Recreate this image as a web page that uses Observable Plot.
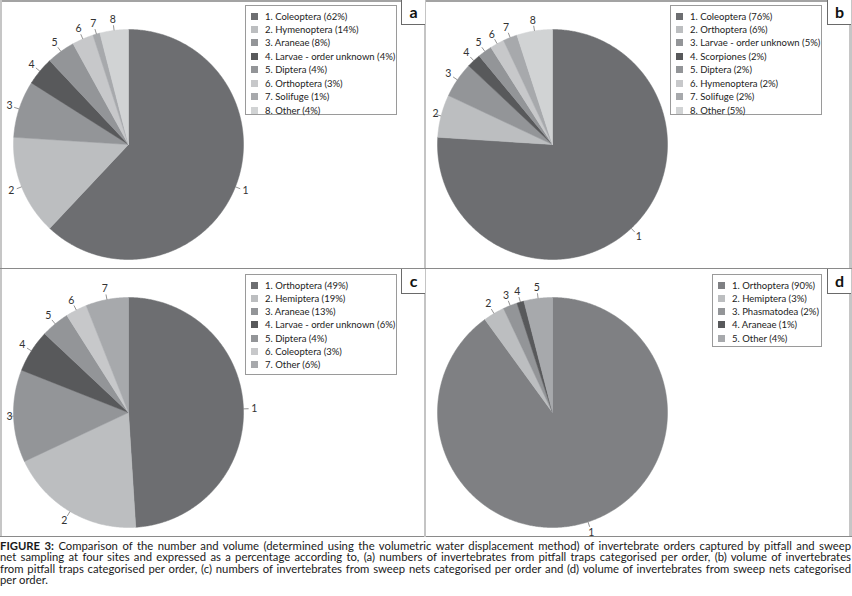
<!DOCTYPE html>
<html><head><meta charset="utf-8">
<script src="https://cdn.jsdelivr.net/npm/d3@7"></script>
<script src="https://cdn.jsdelivr.net/npm/@observablehq/plot@0.6"></script>
<style>
body{margin:0;background:#fff;font-family:Lato,sans-serif;}
#fig{position:relative;width:852px;height:596px;overflow:hidden;}
.plotbox{position:absolute;}
.frameT{position:absolute;left:0;top:0;width:852px;height:2px;background:#a3a3a3;}
.frameL{position:absolute;left:0;top:0;width:2px;height:537px;background:#c6c6c6;}
.frameR{position:absolute;left:849px;top:0;width:3px;height:537px;background:#c6c6c6;}
.frameB{position:absolute;left:0;top:536px;width:852px;height:1px;background:#8a8a8a;}
.vline{position:absolute;left:424px;top:0;width:2px;height:537px;background:#c4c4c4;}
.hline{position:absolute;left:0;top:268px;width:852px;height:1px;background:#8a8a8a;}
.tag{position:absolute;width:23px;height:24px;background:#fff;border-left:1px solid #6a6a6a;border-bottom:1px solid #6a6a6a;font:bold 16px Lato,sans-serif;text-align:center;line-height:23px;color:#111;}
.legend{position:absolute;border:1px solid #9a9a9a;background:#fff;box-sizing:border-box;}
.row{position:absolute;height:13px;line-height:13px;font-size:9.5px;color:#222;white-space:nowrap;}
.sw{position:absolute;width:7px;height:7px;top:3px;}
#cap{position:absolute;left:0;top:539.5px;width:851px;font-size:11.3px;line-height:11.6px;color:#1a1a1a;}
#cap span.l{display:block;white-space:nowrap;text-align:justify;text-align-last:justify;}
#cap span.last{display:block;white-space:nowrap;text-align:left;}
</style></head>
<body><div id="fig"></div>
<script>
// ---- data ----
const catsA = ["Coleoptera","Hymenoptera","Araneae","Larvae - order unknown","Diptera","Orthoptera","Solifuge","Other"];
const valsA = [62,14,8,4,4,3,1,4];
const catsB = ["Coleoptera","Orthoptera","Larvae - order unknown","Scorpiones","Diptera","Hymenoptera","Solifuge","Other"];
const valsB = [76,6,5,2,2,2,2,5];
const catsC = ["Orthoptera","Hemiptera","Araneae","Larvae - order unknown","Diptera","Coleoptera","Other"];
const valsC = [49,19,13,6,4,3,6];
const catsD = ["Orthoptera","Hemiptera","Phasmatodea","Araneae","Other"];
const valsD = [90,3,2,1,4];
const panelTags = ["a","b","c","d"];
const captionLines = [
  "Comparison of the number and volume (determined using the volumetric water displacement method) of invertebrate orders captured by pitfall and sweep",
  "net sampling at four sites and expressed as a percentage according to, (a) numbers of invertebrates from pitfall traps categorised per order, (b) volume of invertebrates",
  "from pitfall traps categorised per order, (c) numbers of invertebrates from sweep nets categorised per order and (d) volume of invertebrates from sweep nets categorised",
  "per order."
];
// ---- styles ----
const palA = ["#6d6e71","#bcbec0","#939598","#58595b","#939598","#c7c8ca","#a7a9ac","#d1d3d4"];
const palC = ["#6d6e71","#bcbec0","#939598","#58595b","#939598","#c7c8ca","#a7a9ac"];
const palD = ["#7f8083","#bcbec0","#939598","#58595b","#a7a9ac"];

const fig = document.getElementById("fig");
const W = 424, H = 268, R = 115;

function piePlot(vals, pal, cx, cy) {
  const total = d3.sum(vals);
  const poly = [], labs = [];
  let acc = 0;
  vals.forEach((v, i) => {
    const a0 = acc / total * 2 * Math.PI; acc += v;
    const a1 = acc / total * 2 * Math.PI;
    const n = Math.max(2, Math.ceil((a1 - a0) / (Math.PI / 360)));
    poly.push({s: i, x: 0, y: 0, c: pal[i]});
    for (let k = 0; k <= n; k++) {
      const a = a0 + (a1 - a0) * k / n;
      poly.push({s: i, x: Math.sin(a), y: Math.cos(a), c: pal[i]});
    }
    poly.push({s: i, x: 0, y: 0, c: pal[i]});
    const m = (a0 + a1) / 2;
    labs.push({t: String(i + 1), m});
  });
  const xmin = (-cx + 9) / R;
  return Plot.plot({
    width: W, height: H, margin: 0,
    style: {background: "transparent", fontFamily: "Lato, sans-serif"},
    x: {domain: [-cx / R, (W - cx) / R], axis: null},
    y: {domain: [-(H - cy) / R, cy / R], axis: null},
    color: {type: "identity"},
    marks: [
      Plot.line(poly, {x: "x", y: "y", z: "s", fill: "c", stroke: "c", strokeWidth: 0.5}),
      Plot.link(labs, {x1: d => Math.sin(d.m) * 1.0, y1: d => Math.cos(d.m) * 1.0,
                       x2: d => Math.sin(d.m) * 1.045, y2: d => Math.cos(d.m) * 1.045,
                       stroke: "#666", strokeWidth: 0.7}),
      Plot.text(labs, {x: d => Math.max(xmin, Math.sin(d.m) * 1.095), y: d => Math.cos(d.m) * 1.095,
                       text: "t", fill: "#333", fontSize: 10.5})
    ]
  });
}

function addBox(el, left, top) {
  const d = document.createElement("div");
  d.className = "plotbox"; d.style.left = left + "px"; d.style.top = top + "px";
  d.appendChild(el); fig.appendChild(d);
}

addBox(piePlot(valsA, palA, 128, 144), 0, 0);
addBox(piePlot(valsB, palA, 552 - 426, 144), 426, 0);
addBox(piePlot(valsC, palC, 128, 412 - 269), 0, 269);
addBox(piePlot(valsD, palD, 552 - 426, 412 - 269), 426, 269);

["frameT","frameL","frameR","frameB","vline","hline"].forEach(c => {
  const d = document.createElement("div"); d.className = c; fig.appendChild(d);
});

function legend(cats, vals, pal, left, top, w, h, step) {
  const L = document.createElement("div");
  L.className = "legend";
  Object.assign(L.style, {left: left + "px", top: top + "px", width: w + "px", height: h + "px"});
  cats.forEach((c, i) => {
    const r = document.createElement("div");
    r.className = "row";
    r.style.top = (3.5 + step * i) + "px";
    r.style.left = "5px";
    const s = document.createElement("div");
    s.className = "sw"; s.style.background = pal[i]; s.style.left = "0px";
    r.appendChild(s);
    const t = document.createElement("span");
    t.style.marginLeft = "14px";
    t.textContent = `${i + 1}. ${c} (${vals[i]}%)`;
    r.appendChild(t);
    L.appendChild(r);
  });
  fig.appendChild(L);
}
legend(catsA, valsA, palA, 245, 5, 152, 110, 13.45);
legend(catsB, valsB, palA, 670, 5, 152, 110, 13.45);
legend(catsC, valsC, palC, 245, 274, 152, 101, 13.25);
legend(catsD, valsD, palD, 712, 274, 110, 73, 13.3);

const tagPos = [[401, 0], [827, 0], [401, 269], [827, 269]];
panelTags.forEach((t, i) => {
  const d = document.createElement("div");
  d.className = "tag"; d.textContent = t;
  d.style.left = tagPos[i][0] + "px"; d.style.top = tagPos[i][1] + "px";
  fig.appendChild(d);
});

const cap = document.createElement("div");
cap.id = "cap";
captionLines.forEach((line, i) => {
  const s = document.createElement("span");
  s.className = i < captionLines.length - 1 ? "l" : "last";
  if (i === 0) {
    const b = document.createElement("b"); b.textContent = "FIGURE 3:"; s.appendChild(b);
    s.appendChild(document.createTextNode(" " + line));
  } else s.textContent = line;
  cap.appendChild(s);
});
fig.appendChild(cap);
</script></body></html>
